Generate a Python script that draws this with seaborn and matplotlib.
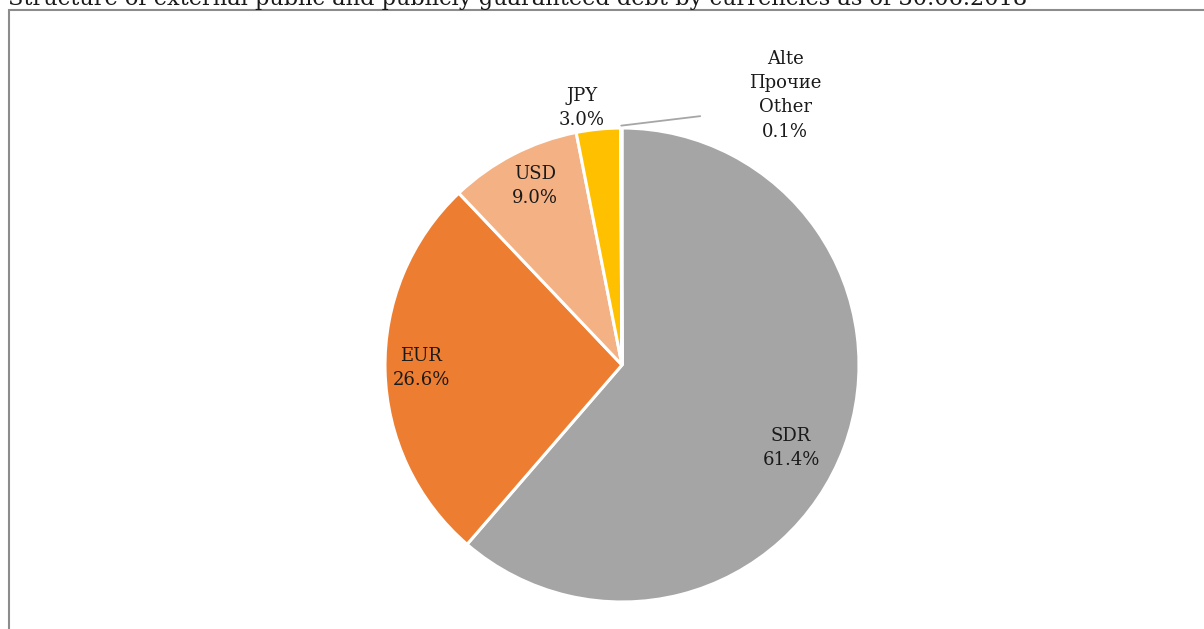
import numpy as np
import matplotlib
matplotlib.use("Agg")
import matplotlib.pyplot as plt
import seaborn as sns
from matplotlib.patches import Rectangle

# data
currencies = ["SDR", "EUR", "USD", "JPY", "Alte\nПрочие\nOther"]
shares = [61.4, 26.6, 9.0, 3.0, 0.1]
colors = ["#A5A5A5", "#ED7D31", "#F4B183", "#FFC000", "#5B9BD5"]
# label centres in pie units (radius = 1)
label_xy = [(0.713, -0.350), (-0.848, -0.013), (-0.367, 0.755), (-0.169, 1.084), (0.688, 1.139)]

sns.set_theme(style="white")
plt.rcParams['font.family'] = ['DejaVu Serif', 'DejaVu Sans']

W, H = 1204, 629
fig = plt.figure(figsize=(W / 100, H / 100), dpi=100)
fig.patch.set_facecolor("white")

# outer frame, cut off on right and bottom like the source
fig.patches.append(Rectangle((9 / W, -0.1), 1.2, 1 - 10 / H + 0.1, transform=fig.transFigure,
                             fill=False, edgecolor="#8c8c8c", linewidth=1.5, zorder=0))

# title (partially cropped at the top, as in the source)
fig.text(8 / W, 1 - 5 / H, "Structure of external public and publicly guaranteed debt by currencies as of 30.06.2018",
         fontsize=16.2, va="baseline", ha="left", color="#1a1a1a")

cx, cy, r = 622, 365, 237
ax = fig.add_axes([(cx - r) / W, (H - cy - r) / H, 2 * r / W, 2 * r / H])
wedges, _ = ax.pie(shares, colors=colors, startangle=90, counterclock=False,
                   wedgeprops=dict(edgecolor="white", linewidth=2.2), radius=1)
ax.set_xlim(-1, 1)
ax.set_ylim(-1, 1)
ax.set_aspect("equal")
ax.axis("off")

for w, name, val, (x, y) in zip(wedges, currencies, shares, label_xy):
    if name.startswith("Alte"):
        mid = np.deg2rad((w.theta1 + w.theta2) / 2)
        ax.plot([np.cos(mid) * 1.0, 0.33], [np.sin(mid) * 1.01, 1.05], color="#a6a6a6", lw=1.3,
                clip_on=False)
    ax.text(x, y, f"{name}\n{val:.1f}%", ha="center", va="center", fontsize=13,
            color="#1a1a1a", linespacing=1.45, clip_on=False)

fig.savefig("out.png", dpi=100)
